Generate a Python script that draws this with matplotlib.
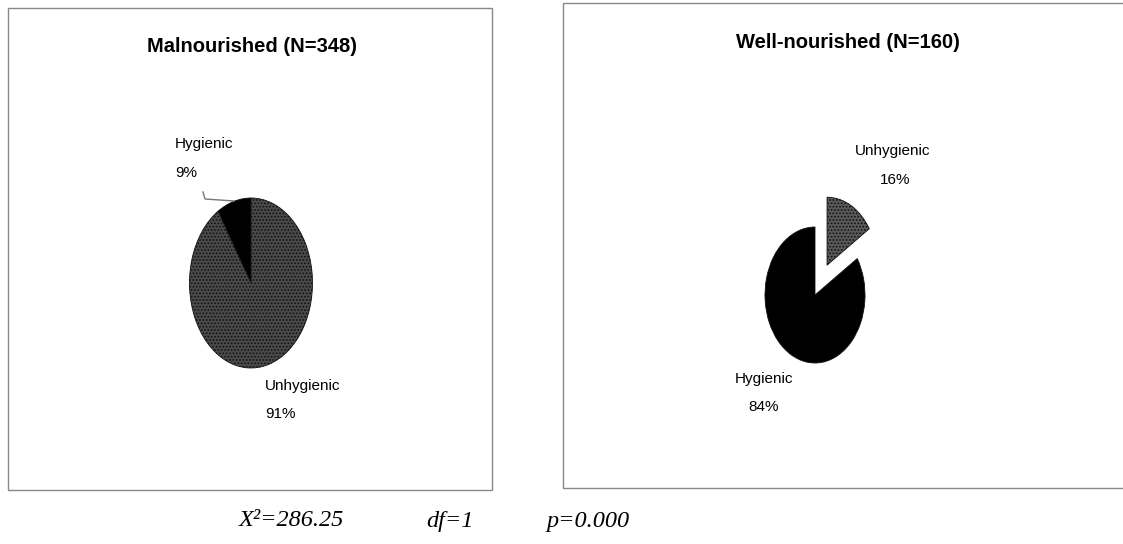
import matplotlib.pyplot as plt
from matplotlib.patches import Rectangle
from matplotlib.lines import Line2D

# data
left_title = 'Malnourished (N=348)'
left_labels = ['Hygienic', 'Unhygienic']
left_values = [9, 91]

right_title = 'Well-nourished (N=160)'
right_labels = ['Unhygienic', 'Hygienic']
right_values = [16, 84]

stats_text = ['X\u00b2=286.25', 'df=1', 'p=0.000']

W, H = 1123, 544
fig = plt.figure(figsize=(W / 100, H / 100), dpi=100)
fig.patch.set_facecolor('white')
plt.rcParams['hatch.linewidth'] = 0.8


def fx(x):
    return x / W


def fy(y):
    return 1 - y / H


def px_axes(cx, cy, rx, ry):
    # axes spanning data (-2, 2) with radius 1 -> rx, ry pixels
    return fig.add_axes([fx(cx - 2 * rx), fy(cy + 2 * ry), 4 * rx / W, 4 * ry / H])


sans = 'Liberation Sans'
serif = 'Liberation Serif'

# panel frames
fig.add_artist(Rectangle((fx(8), fy(490)), fx(492) - fx(8), fy(8) - fy(490),
                         transform=fig.transFigure, fill=False,
                         edgecolor='#888888', lw=1))
fig.add_artist(Rectangle((fx(563), fy(488)), fx(1130) - fx(563), fy(3) - fy(488),
                         transform=fig.transFigure, fill=False,
                         edgecolor='#888888', lw=1))

# left pie
ax1 = px_axes(251, 283, 61.5, 85)
w1, _ = ax1.pie(left_values, startangle=90, counterclock=True,
                colors=['black', '#4a4a4a'],
                wedgeprops=dict(edgecolor='#111111', linewidth=0.6))
w1[1].set_hatch('.....')
ax1.set_aspect('auto')
ax1.set_xlim(-2, 2)
ax1.set_ylim(-2, 2)
ax1.axis('off')

# right pie
ax2 = px_axes(815, 295, 50, 68)
w2, _ = ax2.pie(right_values, startangle=90, counterclock=False,
                explode=[0.5, 0], colors=['#5a5a5a', 'black'],
                wedgeprops=dict(edgecolor='#111111', linewidth=0.6))
w2[0].set_hatch('.....')
ax2.set_aspect('auto')
ax2.set_xlim(-2, 2)
ax2.set_ylim(-2, 2)
ax2.axis('off')

# titles
fig.text(fx(252), fy(47), left_title, ha='center', va='center',
         family=sans, fontweight='bold', fontsize=14.5)
fig.text(fx(848), fy(43), right_title, ha='center', va='center',
         family=sans, fontweight='bold', fontsize=14.5)

# slice labels
lab = dict(family=sans, fontsize=11, va='center')
fig.text(fx(175), fy(144), left_labels[0], ha='left', **lab)
fig.text(fx(175), fy(173), '%d%%' % left_values[0], ha='left', **lab)
fig.text(fx(265), fy(386), left_labels[1], ha='left', **lab)
fig.text(fx(265), fy(414), '%d%%' % left_values[1], ha='left', **lab)

fig.text(fx(893), fy(151), right_labels[0], ha='center', **lab)
fig.text(fx(895), fy(180), '%d%%' % right_values[0], ha='center', **lab)
fig.text(fx(764), fy(379), right_labels[1], ha='center', **lab)
fig.text(fx(764), fy(407), '%d%%' % right_values[1], ha='center', **lab)

# leader line for Hygienic (left)
fig.add_artist(Line2D([fx(203), fx(205), fx(234)], [fy(192), fy(199), fy(201)],
                      transform=fig.transFigure, color='#777777', lw=1))

# statistics
st = dict(family=serif, style='italic', fontsize=17.5, va='center', ha='left')
fig.text(fx(239), fy(521), stats_text[0], **st)
fig.text(fx(426), fy(521), stats_text[1], **st)
fig.text(fx(546), fy(521), stats_text[2], **st)

fig.savefig('out.png', dpi=100, facecolor='white')
